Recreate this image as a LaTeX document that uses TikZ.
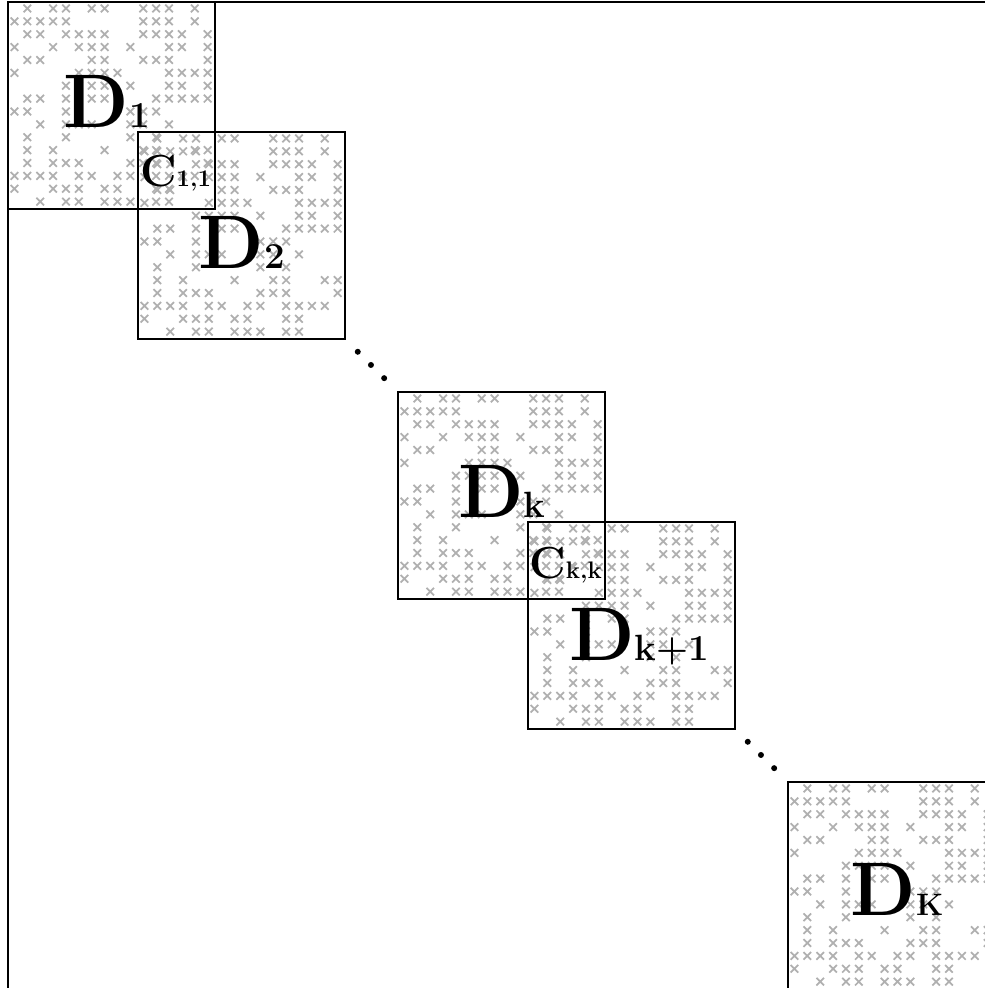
\documentclass[tikz,border=0pt]{standalone}
\usepackage{xcolor}
\usepackage{tikz}
\usetikzlibrary{calc,positioning}
\colorlet{colorX}{gray!62}
\tikzset{
   every path/.style={>=stealth},
   blk/.style={rectangle, minimum size=5.15cm, inner sep=0pt, anchor=north west},
   blkline/.style={draw=black, line width=1.4pt},
   xmark/.style={draw=colorX, line width=1.25pt},
   lbl/.style={inner sep=0pt, anchor=base},
   ddot/.style={fill=black},
}
\newcommand{\blkD}[1]{{\fontsize{54}{60}\selectfont\bfseries D}{\fontsize{26}{30}\selectfont\bfseries #1}}
\newcommand{\blkC}[1]{{\fontsize{32}{36}\selectfont\bfseries C}{\fontsize{17}{20}\selectfont\bfseries #1}}
\newcommand{\xfill}[1]{%
  \pgfmathsetseed{4711}
  \begin{scope}[shift={(#1.north west)}]
    \clip (0,0) rectangle (5.15,-5.15);
    \foreach \i in {0,...,15}
      \foreach \j in {0,...,15} {
        \pgfmathtruncatemacro{\keep}{rnd<0.55}
        \ifnum\keep=1
          \draw[xmark] ({0.161+\i*0.322},{-0.161-\j*0.322}) +(-0.095,-0.095) -- +(0.095,0.095) +(-0.095,0.095) -- +(0.095,-0.095);
        \fi
      }
  \end{scope}}

\begin{document}
\begin{tikzpicture}
  \useasboundingbox (-0.2,0.05) rectangle (24.425,-24.65);

  % whole matrix
  \draw[blkline] (0,0) rectangle (24.9,-24.9);

  % diagonal blocks
  \node [blk] (D1) at (0,0) {};
  \node [blk] (D2) at (3.25,-3.25) {};
  \node [blk] (Dk) at (9.75,-9.75) {};
  \node [blk] (Dk1) at (13,-13) {};
  \node [blk] (DK) at (19.5,-19.5) {};

  \foreach \b in {D1,D2,Dk,Dk1,DK} {\xfill{\b}}
  \foreach \b in {D1,D2,Dk,Dk1,DK}
    \draw[blkline] (\b.north west) rectangle (\b.south east);

  % labels
  \node [lbl] (lD1) at (2.475,-3.125) {\blkD{1}};
  \node [lbl] (lC11) at (4.19,-4.6) {\blkC{1,1}};
  \node [lbl] (lD2) at (5.85,-6.65) {\blkD{2}};
  \node [lbl] (lDk) at (12.35,-12.875) {\blkD{k}};
  \node [lbl] (lCkk) at (13.94,-14.4) {\blkC{k,k}};
  \node [lbl] (lDk1) at (15.775,-16.45) {\blkD{k+1}};
  \node [lbl] (lDK) at (22.225,-22.825) {{\fontsize{54}{60}\selectfont\bfseries D}{\fontsize{22}{26}\selectfont\bfseries K}};

  % dots between blocks
  \foreach \b in {D2,Dk1}
    \foreach \t in {0.33,0.66,0.99}
      \fill[ddot] ($(\b.south east)+(\t,-\t)$) circle (0.075);
\end{tikzpicture}
\end{document}
